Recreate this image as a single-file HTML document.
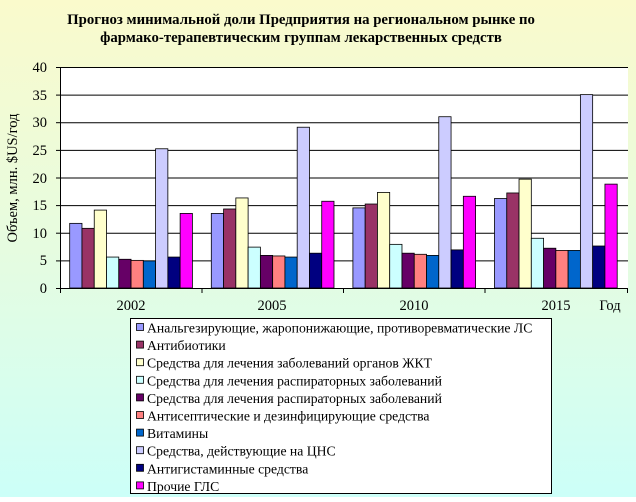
<!DOCTYPE html><html><head><meta charset="utf-8"><style>
body{margin:0;width:636px;height:497px;overflow:hidden;font-family:"Liberation Serif","DejaVu Serif",serif}
</style></head><body>
<svg width="636" height="497" xmlns="http://www.w3.org/2000/svg" font-family="Liberation Serif, DejaVu Serif, serif">
<defs><linearGradient id="bg" x1="0" y1="0" x2="0" y2="1"><stop offset="0" stop-color="#fafacc"/><stop offset="0.5" stop-color="#e6fce0"/><stop offset="1" stop-color="#ccfff8"/></linearGradient></defs>
<rect width="636" height="497" fill="url(#bg)"/>
<text x="301" y="24" text-anchor="middle" font-size="14.8" font-weight="bold">Прогноз минимальной доли Предприятия на региональном рынке по</text>
<text x="301" y="42" text-anchor="middle" font-size="14.8" font-weight="bold">фармако-терапевтическим группам лекарственных средств</text>
<rect x="60.5" y="67" width="567.5" height="221" fill="#fff"/>
<g stroke="#000" stroke-width="1">
<line x1="60" y1="67.5" x2="628" y2="67.5"/><line x1="60" y1="95.1" x2="628" y2="95.1"/><line x1="60" y1="122.7" x2="628" y2="122.7"/><line x1="60" y1="150.4" x2="628" y2="150.4"/><line x1="60" y1="178" x2="628" y2="178"/><line x1="60" y1="205.6" x2="628" y2="205.6"/><line x1="60" y1="233.2" x2="628" y2="233.2"/><line x1="60" y1="260.9" x2="628" y2="260.9"/>
<line x1="60.5" y1="67" x2="60.5" y2="288"/>
<line x1="56" y1="288.5" x2="628" y2="288.5"/>
<line x1="56" y1="67.5" x2="60" y2="67.5"/><line x1="56" y1="95.1" x2="60" y2="95.1"/><line x1="56" y1="122.7" x2="60" y2="122.7"/><line x1="56" y1="150.4" x2="60" y2="150.4"/><line x1="56" y1="178" x2="60" y2="178"/><line x1="56" y1="205.6" x2="60" y2="205.6"/><line x1="56" y1="233.2" x2="60" y2="233.2"/><line x1="56" y1="260.9" x2="60" y2="260.9"/>
<line x1="60.5" y1="288" x2="60.5" y2="293"/><line x1="202" y1="288" x2="202" y2="293"/><line x1="343.5" y1="288" x2="343.5" y2="293"/><line x1="485" y1="288" x2="485" y2="293"/><line x1="627.5" y1="288" x2="627.5" y2="293"/>
</g>
<g font-size="14.5" text-anchor="end">
<text x="47" y="72">40</text><text x="47" y="100">35</text><text x="47" y="127">30</text><text x="47" y="155">25</text><text x="47" y="183">20</text><text x="47" y="210">15</text><text x="47" y="238">10</text><text x="47" y="265">5</text><text x="47" y="293">0</text>
</g>
<text transform="translate(17,178) rotate(-90)" text-anchor="middle" font-size="14.5">Объем, млн. $US/год</text>
<g font-size="14.5" text-anchor="middle">
<text x="131" y="310">2002</text><text x="272" y="310">2005</text><text x="414" y="310">2010</text><text x="556" y="310">2015</text><text x="610" y="310">Год</text>
</g>
<g id="bars" stroke="#000" stroke-width="0.8"></g>
<rect x="130.5" y="318.5" width="421" height="175" fill="#fff" stroke="#000"/>
<g id="leg" font-size="13.7"></g>
<script>
var cols=["#9999ff","#993366","#ffffcc","#ccffff","#660066","#ff8080","#0066cc","#ccccff","#000080","#ff00ff"];
var d=[[11.7,10.8,14.1,5.6,5.2,5.0,4.9,25.2,5.6,13.5],[13.5,14.3,16.3,7.4,5.9,5.8,5.6,29.1,6.3,15.7],[14.5,15.2,17.3,7.9,6.3,6.1,5.9,31.0,6.9,16.6],[16.2,17.2,19.7,9.0,7.2,6.8,6.8,35.0,7.6,18.8]];
var names=["Анальгезирующие, жаропонижающие, противоревматические ЛС","Антибиотики","Средства для лечения заболеваний органов ЖКТ","Средства для лечения распираторных заболеваний","Средства для лечения распираторных заболеваний","Антисептические и дезинфицирующие средства","Витамины","Средства, действующие на ЦНС","Антигистаминные средства","Прочие ГЛС"];
var ns="http://www.w3.org/2000/svg",b=document.getElementById("bars"),l=document.getElementById("leg");
for(var g=0;g<4;g++)for(var i=0;i<10;i++){var r=document.createElementNS(ns,"rect");var h=d[g][i]*5.525;var x=69.7+g*141.6+i*12.27;r.setAttribute("x",x);r.setAttribute("y",288-h);r.setAttribute("width",12.27);r.setAttribute("height",h);r.setAttribute("fill",cols[i]);b.appendChild(r);}
for(var i=0;i<10;i++){var y=328+i*17.6;var r=document.createElementNS(ns,"rect");r.setAttribute("x",136.5);r.setAttribute("y",y-4.5);r.setAttribute("width",7);r.setAttribute("height",7);r.setAttribute("fill",cols[i]);r.setAttribute("stroke","#000");r.setAttribute("stroke-width","0.8");l.appendChild(r);var t=document.createElementNS(ns,"text");t.setAttribute("x",147);t.setAttribute("y",y+4.5);t.textContent=names[i];l.appendChild(t);}
</script>
</svg>
</body></html>
